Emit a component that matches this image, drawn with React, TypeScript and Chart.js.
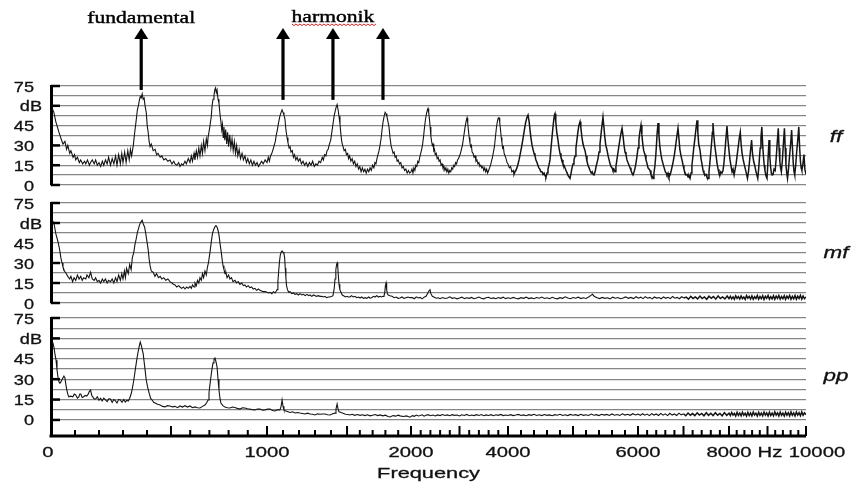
import React, { useEffect, useRef } from 'react';
import { Chart, registerables, LinearScale } from 'chart.js';

Chart.register(...registerables);

// ---- frequency axis calibration (as printed: labelled ticks are not evenly spaced) ----
const axisHz = [0, 500, 1000, 1500, 2000, 4000, 6000, 8000, 10000];
const axisFrac = [0, 0.1589, 0.2861, 0.3921, 0.4768, 0.6053, 0.7775, 0.898, 1];

// ---- tick labels ----
const xLabelValues = [0, 1000, 2000, 4000, 6000, 8000, 10000];
const xLabelTexts = ['0', '1000', '2000', '4000', '6000', '8000', '10000'];
const xUnit = 'Hz';
const xTitle = 'Frequency';
const gridDb = [0, 7.5, 15, 22.5, 30, 37.5, 45, 52.5, 60, 67.5, 75];
const yLabelValues = [75, 60, 45, 30, 15, 0];
const yLabelTexts = ['75', 'dB', '45', '30', '15', '0'];
const panelNames = ['ff', 'mf', 'pp'];

// ---- annotations ----
const arrowHz = [376, 1100, 1412, 1781];
const arrowBottomDb = [72, 64.5, 64.5, 64.5];
const annoFundamental = 'fundamental';
const annoHarmonic = 'harmonik';

// ---- spectra: [Hz, dB] ----
const ffSpectrum: [number, number][] = [
  [5,58],[12,55],[20,48],[33,40],[42,35],[50,31],[58,33],[65,27],[70,30],[78,24],[83,26],[92,21],[98,23],[103,19],[110,21],[118,17],[124,19],[132,16],[140,18],[145,16],[152,19],[160,15],[165,17],[172,19],[180,16],[186,19],[193,15],[200,17],[207,14],[214,18],[220,15],[227,19],[234,16],[240,21],[248,15],[255,20],[262,16],[269,22],[275,15],[282,23],[289,16],[295,24],[300,17],[307,25],[313,17],[320,26],[326,19],[331,27],[336,22],[343,30],[349,40],[355,49],[360,57],[364,60],[368,64],[372,67],[376,66],[380,69],[384,65],[388,66],[392,60],[397,55],[401,45],[405,40],[409,33],[413,29],[418,31],[426,26],[434,27],[440,23],[446,24],[455,21],[462,22],[470,19],[478,20],[487,18],[496,19],
  [505,16],[515,18],[521,16],[530,15],[540,17],[547,14],[555,16],[563,15],[573,18],[580,16],[590,20],[599,17],[606,22],[612,18],[620,24],[625,19],[632,26],[638,21],[645,28],[651,22],[658,30],[664,24],[670,33],[677,26],[684,35],[690,30],[693,36],[700,42],[705,47],[710,52],[714,60],[719,65],[724,68],[728,72],[732,73.5],[736,70],[740,72],[745,65],[750,62],[755,54],[760,48],[764,42],[768,46],[772,36],[776,44],[780,34],[785,42],[790,31],[795,40],[800,29],[806,38],[812,28],[818,35],[824,26],[830,33],[836,24],[842,30],[848,22],[855,27],[862,20],[870,24],[877,19],[885,22],[893,17],[900,20],[908,16],[916,19],[924,15],[932,18],[940,15],[948,17],[956,14],[964,16],[972,18],[980,16],[990,19],
  [1000,17],[1008,21],[1015,18],[1022,22],[1030,24],[1038,27],[1045,30],[1052,33],[1058,38],[1065,42],[1072,47],[1080,52],[1088,55],[1094,57],[1100,55],[1106,53],[1112,50],[1118,42],[1125,36],[1131,32],[1138,28],[1144,29],[1150,25],[1158,26],[1165,21],[1172,23],[1180,19],[1188,21],[1196,18],[1206,20],[1215,16],[1225,18],[1235,15],[1245,17],[1255,14],[1265,17],[1275,15],[1285,18],[1295,14],[1305,16],[1315,15],[1325,18],[1335,17],[1345,21],[1352,19],[1360,23],[1368,22],[1375,26],[1382,27],[1390,31],[1398,34],[1405,40],[1412,46],[1419,52],[1426,56],[1432,59],[1438,61],[1444,57],[1450,52],[1456,46],[1462,38],[1468,32],[1475,29],[1482,26],[1490,27],[1496,23],
  [1505,24],[1512,20],[1520,22],[1530,18],[1540,20],[1550,16],[1560,18],[1570,14],[1580,16],[1590,12],[1600,14],[1610,10],[1620,13],[1630,10],[1640,12],[1650,9],[1660,12],[1670,10],[1680,13],[1690,11],[1700,15],[1710,13],[1718,17],[1726,16],[1734,20],[1742,23],[1750,26],[1758,30],[1766,35],[1774,42],[1782,48],[1790,52],[1798,55],[1805,54],[1812,52],[1820,48],[1828,44],[1836,36],[1844,30],[1852,27],[1860,24],[1868,25],[1876,21],[1884,22],[1892,18],[1900,19],[1910,16],[1920,17],[1930,13],[1940,14],[1950,11],[1960,12],[1970,9],[1980,11],[1990,9],
  [2000,10],[2020,12],[2040,9],[2060,13],[2080,11],[2100,15],[2120,14],[2140,18],[2160,17],[2180,21],[2200,24],[2220,27],[2240,31],[2260,37],[2280,44],[2300,50],[2320,54],[2340,57],[2351,58],[2365,55],[2380,50],[2395,44],[2410,37],[2425,33],[2440,30],[2455,31],[2470,26],[2485,27],[2500,23],[2520,24],[2540,20],[2560,21],[2580,18],[2600,19],[2620,15],[2640,16],[2660,13],[2680,14],[2700,11],[2720,13],[2740,10],[2760,12],[2780,9],[2800,11],[2820,10],[2840,13],[2860,12],[2880,15],[2900,14],[2920,17],[2940,16],[2960,19],[2980,20],[3000,22],[3020,24],[3040,27],[3060,30],[3080,35],[3100,40],[3120,45],[3140,49],[3155,51],[3170,47],[3185,41],[3200,36],[3215,32],[3230,29],[3245,30],[3260,25],[3280,24],[3300,21],[3320,22],[3340,18],[3360,19],[3380,16],[3400,17],[3420,14],[3440,15],[3460,13],[3480,14],[3500,11],[3520,13],[3540,10],[3560,12],[3580,9],[3600,11],[3620,13],[3640,15],[3660,18],[3680,21],[3700,25],[3720,29],[3740,36],[3760,43],[3780,48],[3800,51],[3815,51],[3830,47],[3845,42],[3860,36],[3875,32],[3890,28],[3905,29],[3920,24],[3940,22],[3960,20],[3980,17],
  [4000,16],[4020,13],[4040,14],[4060,10],[4080,11],[4092,7.6],[4110,10],[4130,12],[4150,15],[4170,19],[4190,24],[4210,29],[4230,35],[4250,41],[4270,47],[4290,51],[4308,53],[4325,48],[4340,41],[4355,35],[4370,30],[4385,27],[4400,24],[4415,22],[4430,19],[4446,17],[4460,15],[4475,13],[4490,12],[4505,10],[4523,10],[4540,8],[4555,9],[4570,7],[4584,6],[4600,9],[4615,12],[4630,15],[4646,19],[4660,27],[4675,35],[4690,43],[4705,50],[4715,53],[4723,54],[4735,48],[4750,40],[4769,34],[4785,28],[4800,24],[4815,21],[4831,19],[4845,16],[4860,15],[4876,13],[4892,11],[4910,9],[4925,7],[4940,6],[4954,5],[4970,9],[4985,13],[5000,16],[5015,19],[5031,22],[5045,28],[5060,34],[5075,40],[5090,45],[5108,48],[5120,44],[5135,37],[5150,32],[5165,29],[5185,26],[5200,22],[5215,18],[5230,15],[5247,13],[5262,11],[5280,9],[5295,10],[5310,8],[5323,7.6],[5340,10],[5355,14],[5370,17],[5385,20],[5400,25],[5415,31],[5430,38],[5445,45],[5461,51.5],[5475,44],[5490,36],[5505,30],[5523,26.5],[5540,22],[5555,19],[5570,16],[5585,14],[5600,13],[5615,11],[5630,12],[5646,10],[5660,14],[5675,19],[5690,24],[5705,29],[5720,34],[5737,39],[5754,43],[5770,37],[5785,30],[5800,25],[5815,23],[5830,19],[5845,17],[5862,15],[5877,13],[5892,11],[5908,9],[5923,7.6],[5940,10],[5955,13],[5970,17],[5985,22],
  [6000,28],[6020,34],[6040,40],[6066,45.5],[6085,38],[6105,31],[6125,26],[6154,23],[6175,19],[6200,16],[6220,13],[6245,12],[6264,11],[6285,8],[6305,7],[6330,5],[6350,9],[6370,14],[6390,22],[6405,30],[6420,39],[6440,47],[6460,38],[6480,29],[6505,23],[6527,19],[6550,16],[6575,13],[6600,10],[6620,9],[6637,7.6],[6660,9],[6680,6],[6703,7.6],[6725,10],[6750,14],[6775,18],[6800,23],[6825,29],[6850,36],[6879,43],[6900,35],[6920,27],[6945,22],[6967,19],[6990,15],[7010,12],[7035,9],[7055,7.6],[7080,8],[7100,6],[7120,7],[7143,5],[7165,9],[7185,15],[7205,21],[7225,28],[7250,35],[7275,43],[7297,49],[7315,40],[7335,31],[7363,26.5],[7385,20],[7410,15],[7430,11],[7450,9],[7473,7.6],[7495,8],[7515,6],[7539,5],[7560,10],[7580,17],[7600,25],[7620,33],[7635,40],[7648,47],[7665,38],[7690,29],[7714,23],[7735,17],[7760,12],[7780,9],[7802,7.6],[7820,10],[7845,9],[7868,11],[7890,17],[7910,25],[7930,34],[7956,44.7],[7975,35],
  [8000,26],[8027,19],[8055,14],[8080,10],[8105,12],[8133,7.6],[8160,12],[8185,16],[8210,22],[8240,29],[8265,35],[8293,40],[8315,31],[8340,24],[8370,19],[8400,15],[8425,12],[8450,9],[8480,5],[8505,10],[8530,17],[8555,25],[8587,34],[8610,24],[8640,18],[8667,15],[8695,11],[8720,8],[8747,5],[8770,12],[8790,20],[8810,28],[8830,36],[8853,44],[8875,30],[8900,20],[8915,15],[8933,11],[8960,7],[8987,5],[9005,14],[9022,24],[9040,34],[9060,22],[9080,14],[9100,9],[9120,7.6],[9145,8],[9170,12],[9200,11],[9225,20],[9250,31],[9280,43],[9300,28],[9320,18],[9340,13],[9360,10],[9385,18],[9410,30],[9440,43],[9460,28],[9480,15],[9500,9],[9520,5],[9545,12],[9570,21],[9600,31],[9627,41.7],[9650,27],[9670,16],[9690,10],[9707,7.6],[9730,14],[9755,24],[9785,34],[9813,44],[9835,28],[9855,18],[9875,13],[9893,11],[9920,16],[9947,23],[9970,12],[10000,8],
];

const mfSpectrum: [number, number][] = [
  [5,62],[12,60],[20,52],[29,46],[36,40],[41,34],[46,30],[50,27],[56,24],[62,22.5],[70,20],[78,18],[83,20],[90,16],[96,19],[103,17],[110,21],[117,18],[124,20],[130,17],[136,19],[145,18],[150,21],[158,19],[165,23],[172,18],[180,17],[186,19],[193,16],[200,17],[207,15],[214,18],[220,16],[227,18],[234,15],[240,17],[248,16],[255,18],[262,15],[269,19],[275,16],[282,21],[289,17],[295,22],[300,18],[306,24],[310,19],[315,26],[322,22],[328,29],[334,25],[339,34],[345,38],[350,44],[355,48],[360,53],[365,56],[368,58],[372,60],[376,61],[380,62],[385,59],[390,57],[395,52],[400,46],[405,40],[409,33],[413,28],[418,24],[426,23],[433,20],[440,22],[448,19],[455,20],[462,18],[470,19],[478,17],[487,18],[496,16],
  [505,15],[513,14],[521,13.5],[530,12],[540,13],[547,12],[555,11],[565,12],[573,10.5],[582,12],[590,11],[599,12.5],[606,11],[612,13.5],[620,12],[625,15],[632,13],[638,17],[645,15],[651,19],[658,17],[664,22],[670,19],[677,24],[684,21],[690,27],[695,30],[700,35],[705,40],[710,46],[716,52],[722,55],[728,57],[734,58],[740,57],[746,54],[751,50],[756,44],[762,38],[767,32],[771,28],[776,25],[782,22],[786,23],[792,19],[800,21],[807,18],[815,19],[823,16],[833,17],[842,15],[850,16],[859,14],[868,15],[877,13],[885,13.5],[893,12],[902,13],[911,11.5],[920,12],[928,10.5],[937,11],[946,9.5],[955,10.5],[964,9.5],[972,9],[980,8.5],[990,8.5],
  [1000,8],[1010,7.5],[1019,8],[1030,7],[1040,8.5],[1050,7.5],[1058,9],[1063,10],[1068,16],[1073,24],[1078,31],[1083,36],[1088,38],[1094,39],[1100,38],[1106,37],[1110,34],[1114,26],[1118,19],[1122,13],[1128,10],[1135,8],[1144,8.5],[1155,7],[1165,7.5],[1175,6.5],[1186,7],[1196,6],[1206,7],[1218,6],[1228,6.5],[1238,5.5],[1250,6.5],[1260,5.5],[1269,6],[1280,5],[1290,6],[1300,5.5],[1310,5],[1320,5.5],[1331,5],[1342,5],[1352,4.5],[1362,5],[1372,4],[1383,4.5],[1394,4.5],[1405,5],[1412,5.5],[1420,11],[1425,18],[1430,25],[1435,29],[1438,30],[1442,27],[1446,20],[1450,14],[1455,10],[1462,8],[1470,6],[1481,5.2],[1490,4.5],
  [1500,5],[1510,4.5],[1523,4.5],[1535,5.5],[1548,4.5],[1563,5],[1575,4],[1590,4.5],[1602,3.7],[1615,4.5],[1628,3.5],[1641,4],[1655,3.5],[1668,4.5],[1680,3.7],[1693,4],[1706,5],[1719,4.5],[1732,5.5],[1745,4.5],[1758,5],[1770,4.5],[1782,5],[1789,5.2],[1795,8],[1800,13],[1805,15],[1810,10],[1815,7],[1822,6],[1835,5.5],[1852,5],[1868,4],[1884,4.5],[1900,3.5],[1914,3.7],[1930,4.5],[1945,3.5],[1960,4],[1976,4.5],[1992,4],
  [2030,4],[2070,3.2],[2110,4.6],[2150,3.8],[2190,4.2],[2230,3.1],[2270,4.4],[2310,5],[2340,7],[2370,9],[2392,10],[2410,7],[2440,5],[2480,4.3],[2520,3.6],[2560,3.9],[2600,3.2],[2650,4.1],[2700,3.4],[2750,3.8],[2800,4.6],[2850,3.5],[2900,3.9],[2950,3.1],[3000,3.7],[3050,4.4],[3100,3.3],[3150,3.9],[3200,3.5],[3250,4.2],[3300,3.2],[3350,3.8],[3400,4.5],[3450,3.6],[3500,3.1],[3550,3.9],[3600,4.3],[3650,3.4],[3700,3.8],[3750,3.2],[3800,4.1],[3850,3.5],[3900,4.4],[3950,3.3],[4000,3.9],
  [4040,3.4],[4080,4.2],[4120,3.6],[4160,3.1],[4200,4],[4240,3.5],[4280,4.4],[4320,3.3],[4360,3.8],[4400,3.2],[4440,4.1],[4480,3.6],[4520,4.5],[4560,3.4],[4600,3.9],[4640,3.2],[4680,4.3],[4720,3.6],[4760,3.1],[4800,4],[4840,3.5],[4880,4.6],[4920,3.7],[4960,3.2],[5000,4.1],[5040,3.6],[5080,4.4],[5120,3.3],[5160,3.9],[5200,3.4],[5240,4.5],[5270,5.5],[5300,6.5],[5330,4.8],[5370,3.9],[5410,3.3],[5450,4.2],[5490,3.5],[5530,3.9],[5570,3.1],[5610,4.4],[5650,3.6],[5690,4.1],[5730,3.2],[5770,3.8],[5810,4.6],[5850,3.5],[5890,4.2],[5930,3.3],[5970,4.7],
  [6010,3.6],[6060,4.4],[6110,3.3],[6160,4.8],[6210,3.6],[6260,4.2],[6310,3.1],[6360,4.5],[6410,3.7],[6460,4.1],[6510,3.2],[6560,4.6],[6610,3.5],[6660,4.3],[6710,3.3],[6760,4.9],[6810,3.6],[6860,4.2],[6910,3.2],[6960,4.7],[7010,3.8],[7060,4.4],[7110,2.9],[7160,5],[7210,3.4],[7260,4.6],[7310,3.1],[7360,5.2],[7410,3.3],[7460,4.5],[7510,2.8],[7560,5.1],[7610,3.6],[7660,4.8],[7710,2.9],[7760,5.3],[7810,3.4],[7860,4.6],[7910,3],[7960,5.2],
  [8000,3.3],[8035,5],[8070,3.1],[8105,4.6],[8140,2.8],[8175,5.4],[8210,3.5],[8245,4.8],[8280,2.9],[8315,5.2],[8350,3.3],[8385,4.5],[8420,2.7],[8455,5.5],[8490,3.6],[8525,4.9],[8560,3],[8595,5.3],[8630,2.8],[8665,4.7],[8700,3.4],[8735,5.6],[8770,2.9],[8805,4.8],[8840,3.2],[8875,5.4],[8910,2.7],[8945,5],[8980,3.5],[9015,5.6],[9050,2.9],[9085,4.7],[9120,3.1],[9155,5.5],[9190,2.8],[9225,5.1],[9260,3.4],[9295,5.7],[9330,2.9],[9365,4.8],[9400,3.2],[9435,5.5],[9470,2.7],[9505,5.2],[9540,3.5],[9575,5.7],[9610,2.8],[9645,4.9],[9680,3.1],[9715,5.6],[9750,2.8],[9785,5.1],[9820,3.4],[9855,5.8],[9890,2.9],[9925,5.2],[9960,3.2],[10000,4.6],
];

const ppSpectrum: [number, number][] = [
  [5,57],[8,56.6],[12,53.7],[16,49],[21,44],[25,37],[29,31.6],[33,28],[37,27],[41,28],[45,29.4],[50,31],[54,32.3],[58,31],[62,26],[66,22],[70,19],[74,17],[82,17.5],[91,17],[97,19],[103,18.4],[110,16],[116,17],[120,19],[124,19],[130,16.5],[136,17],[142,18],[149,17.6],[155,19],[160,21],[165,22],[170,18],[174,17],[180,15.5],[186,15.4],[193,17],[200,14.5],[207,16],[213,14],[220,16],[227,14.7],[234,13.5],[241,15.5],[248,15.4],[255,13],[262,15],[269,14],[275,12.5],[282,15],[289,14.7],[296,13],[303,15],[310,13.2],[316,14.5],[322,14],[328,16],[335,19.8],[341,25],[347,31.6],[353,39],[359,46],[365,52],[370,56],[372,57.3],[376,55],[380,52],[384,49],[390,40],[397,29.4],[403,24],[409,19.8],[415,16],[421,14.7],[428,13],[434,12.5],[444,11.5],[455,11],[465,10],[475,9.6],[485,10.5],[496,10.3],
  [508,9.6],[521,10],[534,9],[547,10.3],[560,9.5],[573,10.5],[586,9.5],[599,10.3],[612,9],[625,9.6],[638,9],[651,8.8],[664,10],[677,11],[685,12.5],[693,14.7],[698,20],[703,26],[708,31.6],[713,37],[719,42],[724,44.5],[729,45.6],[734,43],[740,39],[745,30],[750,22],[755,16],[760,12.5],[770,10.5],[781,9.6],[794,9],[807,8.8],[820,9.5],[833,9.2],[846,8.5],[859,8],[872,9],[885,8.8],[898,8.2],[911,8],[924,7.5],[937,7.4],[950,8],[964,8],[977,7.2],[990,7.4],
  [1005,8],[1019,8],[1035,7],[1050,6.6],[1065,7.5],[1081,7.4],[1088,10],[1094,14.7],[1100,10],[1106,7.4],[1118,6.5],[1131,6],[1145,5.5],[1160,6],[1175,5.1],[1190,5.5],[1206,5.1],[1222,4.8],[1238,4.4],[1253,5],[1269,4.4],[1285,4.2],[1300,3.7],[1315,4.5],[1331,4.2],[1347,4.4],[1362,4.4],[1378,3.8],[1394,3.7],[1410,4.5],[1425,5],[1431,8],[1438,11.8],[1444,8],[1450,6],[1462,5.5],[1475,5],[1490,4.2],
  [1505,4],[1523,3.7],[1540,4.2],[1560,3.4],[1580,4],[1602,3.4],[1620,3.8],[1640,3.2],[1660,3.8],[1680,3],[1700,3.5],[1720,4],[1740,3.2],[1758,3.7],[1780,3],[1800,3.5],[1820,2.6],[1836,2.2],[1860,3.2],[1880,2.8],[1900,3.5],[1914,3],[1940,2.5],[1965,3],[1992,2],
  [2030,3.2],[2070,2.7],[2110,3.6],[2150,2.9],[2190,3.3],[2230,3.8],[2270,2.8],[2310,3.4],[2351,3.9],[2400,3.1],[2450,3.6],[2500,2.9],[2550,3.7],[2600,3.2],[2650,4],[2700,3.3],[2750,3.7],[2800,3.1],[2850,3.9],[2900,3.4],[2950,3.6],[3000,2.9],[3050,3.8],[3100,3.3],[3150,4.1],[3200,3.1],[3250,3.6],[3300,3.2],[3350,3.9],[3400,3.3],[3450,4],[3500,3.1],[3550,3.7],[3600,3.3],[3650,3.9],[3700,3.1],[3750,3.8],[3800,3.4],[3850,4.1],[3900,3.2],[3950,3.6],[4000,3.3],
  [4040,3.9],[4080,3.2],[4120,3.6],[4160,4.1],[4200,3.3],[4240,3.7],[4280,3.1],[4320,3.9],[4360,3.4],[4400,4.2],[4440,3.3],[4480,3.8],[4520,3.2],[4560,4],[4600,3.4],[4640,3.7],[4680,3.1],[4720,3.9],[4760,3.5],[4800,4.2],[4840,3.3],[4880,3.8],[4920,3.2],[4960,4.1],[5000,3.5],[5040,3.9],[5080,3.2],[5120,4.2],[5160,3.4],[5200,3.8],[5240,3.3],[5280,4.3],[5320,3.5],[5360,3.9],[5400,3.2],[5440,4.2],[5480,3.6],[5520,4.1],[5560,3.3],[5600,4.4],[5640,3.5],[5680,4],[5720,3.3],[5760,4.5],[5800,3.6],[5840,4.2],[5880,3.4],[5920,4.6],[5960,3.7],[6000,4.3],
  [6050,3.4],[6100,4.6],[6150,3.5],[6200,4.3],[6250,3.2],[6300,4.7],[6350,3.6],[6400,4.4],[6450,3.3],[6500,4.8],[6550,3.5],[6600,4.5],[6650,3.2],[6700,4.9],[6750,3.6],[6800,4.4],[6850,3.3],[6900,5],[6950,3.7],[7000,4.6],[7050,3.1],[7100,5.1],[7150,3.5],[7200,4.7],[7250,3.2],[7300,5.2],[7350,3.6],[7400,4.8],[7450,3.1],[7500,5.3],[7550,3.4],[7600,4.9],[7650,3.2],[7700,5.3],[7750,3.5],[7800,4.8],[7850,3.1],[7900,5.4],[7950,3.4],
  [8000,5],[8035,3.2],[8070,5.5],[8105,3.6],[8140,4.9],[8175,2.9],[8210,5.6],[8245,3.4],[8280,5.1],[8315,3],[8350,5.7],[8385,3.5],[8420,4.9],[8455,2.9],[8490,5.6],[8525,3.3],[8560,5.2],[8595,3],[8630,5.8],[8665,3.6],[8700,5],[8735,2.9],[8770,5.7],[8805,3.4],[8840,5.1],[8875,3],[8910,5.8],[8945,3.5],[8980,5.2],[9015,2.9],[9050,5.7],[9085,3.3],[9120,5.1],[9155,3],[9190,5.9],[9225,3.6],[9260,5.2],[9295,3],[9330,5.8],[9365,3.4],[9400,5.1],[9435,2.9],[9470,5.7],[9505,3.5],[9540,5.3],[9575,3],[9610,5.9],[9645,3.4],[9680,5.2],[9715,2.9],[9750,5.8],[9785,3.6],[9820,5.3],[9855,3.1],[9890,5.9],[9925,3.4],[9960,5.2],[10000,3.8],
];

// ---- warped frequency scale ----
function hzToFrac(v: number): number {
  const n = axisHz.length;
  for (let i = 1; i < n; i++) {
    if (v <= axisHz[i] || i === n - 1) {
      const t = (v - axisHz[i - 1]) / (axisHz[i] - axisHz[i - 1]);
      return axisFrac[i - 1] + t * (axisFrac[i] - axisFrac[i - 1]);
    }
  }
  return 1;
}
function fracToHz(f: number): number {
  const n = axisFrac.length;
  for (let i = 1; i < n; i++) {
    if (f <= axisFrac[i] || i === n - 1) {
      const t = (f - axisFrac[i - 1]) / (axisFrac[i] - axisFrac[i - 1]);
      return axisHz[i - 1] + t * (axisHz[i] - axisHz[i - 1]);
    }
  }
  return axisHz[n - 1];
}

class WarpScale extends LinearScale {
  static id = 'warp';
  static defaults = LinearScale.defaults;
  getPixelForValue(value: number) {
    return this.getPixelForDecimal(hzToFrac(value));
  }
  getValueForPixel(pixel: number) {
    return fracToHz(this.getDecimalForPixel(pixel));
  }
}
Chart.register(WarpScale as any);

const SANS = '"Liberation Sans", Arial, Helvetica, sans-serif';
const SERIF = '"Liberation Serif", "Times New Roman", serif';

function stretchText(ctx: CanvasRenderingContext2D, text: string, x: number, y: number, font: string, sx: number, align: CanvasTextAlign, color = '#111', stroke = 0.3) {
  ctx.save();
  ctx.font = font;
  ctx.fillStyle = color;
  ctx.strokeStyle = color;
  ctx.lineWidth = stroke;
  ctx.textAlign = align;
  ctx.textBaseline = 'alphabetic';
  ctx.translate(x, y);
  ctx.scale(sx, 1);
  ctx.fillText(text, 0, 0);
  if (stroke > 0) ctx.strokeText(text, 0, 0);
  ctx.restore();
}

type PanelCfg = {
  name: string;
  data: [number, number][];
  canvasTop: number;
  canvasHeight: number;
  padTop: number;
  padBottom: number;
  yMin: number;
  nameBaseline: number;
  annotate: boolean;
  xAxis: boolean;
  heavyFrom: number;
};

const panels: PanelCfg[] = [
  { name: panelNames[0], data: ffSpectrum, canvasTop: 0, canvasHeight: 195, padTop: 86, padBottom: 10, yMin: 0, nameBaseline: 56, annotate: true, xAxis: false, heavyFrom: 4100 },
  { name: panelNames[1], data: mfSpectrum, canvasTop: 195, canvasHeight: 115, padTop: 8, padBottom: 7, yMin: 0, nameBaseline: 55, annotate: false, xAxis: false, heavyFrom: 7000 },
  { name: panelNames[2], data: ppSpectrum, canvasTop: 310, canvasHeight: 177, padTop: 8, padBottom: 51, yMin: -11.8, nameBaseline: 63, annotate: false, xAxis: true, heavyFrom: 7000 },
];

function makeDecor(cfg: PanelCfg) {
  return {
    id: 'decor-' + cfg.name,
    afterDraw(chart: any) {
      const ctx: CanvasRenderingContext2D = chart.ctx;
      const xs = chart.scales.x;
      const ys = chart.scales.y;
      const area = chart.chartArea;

      yLabelValues.forEach((v, i) => {
        const y = ys.getPixelForValue(v);
        const t = yLabelTexts[i];
        stretchText(ctx, t, t === 'dB' ? 42 : 34, y + 5.5, `15.5px ${SANS}`, 1.17, 'right');
      });
      ctx.save();
      ctx.strokeStyle = '#000';
      ctx.lineWidth = 2.5;
      [75, 60, 30, 15, 0].forEach((v) => {
        const y = ys.getPixelForValue(v);
        ctx.beginPath();
        ctx.moveTo(area.left, y);
        ctx.lineTo(area.left + 9, y);
        ctx.stroke();
      });
      ctx.restore();

      stretchText(ctx, cfg.name, 836, area.top + cfg.nameBaseline, `italic 16px ${SANS}`, 1.4, 'center');

      if (cfg.annotate) {
        ctx.save();
        ctx.fillStyle = '#000';
        ctx.strokeStyle = '#000';
        arrowHz.forEach((hz, i) => {
          const x = xs.getPixelForValue(hz);
          const yb = ys.getPixelForValue(arrowBottomDb[i]);
          const tip = area.top - 58;
          ctx.lineWidth = 3.2;
          ctx.beginPath();
          ctx.moveTo(x, yb);
          ctx.lineTo(x, tip + 9);
          ctx.stroke();
          ctx.beginPath();
          ctx.moveTo(x, tip);
          ctx.lineTo(x - 7, tip + 11);
          ctx.lineTo(x + 7, tip + 11);
          ctx.closePath();
          ctx.fill();
        });
        ctx.restore();
        const fx = xs.getPixelForValue(arrowHz[0]);
        stretchText(ctx, annoFundamental, fx, area.top - 63.5, `17px ${SERIF}`, 1.27, 'center', '#000', 0.4);
        const hx = xs.getPixelForValue(arrowHz[2]);
        stretchText(ctx, annoHarmonic, hx, area.top - 64.5, `17px ${SERIF}`, 1.27, 'center', '#000', 0.4);
        ctx.save();
        ctx.strokeStyle = '#d42020';
        ctx.lineWidth = 1;
        ctx.beginPath();
        const y0 = area.top - 62;
        let k = 0;
        for (let x = hx - 41; x <= hx + 43; x += 2) {
          const yy = y0 + (k % 2 === 0 ? 0 : 1.6);
          if (k === 0) ctx.moveTo(x, yy); else ctx.lineTo(x, yy);
          k++;
        }
        ctx.stroke();
        ctx.restore();
      }

      if (cfg.xAxis) {
        const yAxis = area.bottom;
        ctx.save();
        ctx.strokeStyle = '#000';
        ctx.lineWidth = 3;
        ctx.beginPath();
        ctx.moveTo(area.left - 1.5, yAxis);
        ctx.lineTo(area.right, yAxis);
        ctx.stroke();
        ctx.lineWidth = 2;
        const ticks: number[] = [];
        for (let f = 100; f <= 2000; f += 100) ticks.push(f);
        for (let f = 2200; f <= 10000; f += 200) ticks.push(f);
        ticks.forEach((f) => {
          const major = f <= 2000 ? f % 500 === 0 : f % 1000 === 0;
          const x = xs.getPixelForValue(f);
          ctx.beginPath();
          ctx.moveTo(x, yAxis);
          ctx.lineTo(x, yAxis - (major ? 10 : 6));
          ctx.stroke();
        });
        ctx.restore();
        xLabelValues.forEach((v, i) => {
          let x = xs.getPixelForValue(v);
          if (v === 0) x -= 3;
          if (v === xLabelValues[xLabelValues.length - 1]) x += 11;
          stretchText(ctx, xLabelTexts[i], x, yAxis + 21, `15px ${SANS}`, 1.35, 'center');
        });
        const hzX = xs.getPixelForValue(8000) + 41;
        stretchText(ctx, xUnit, hzX, yAxis + 21, `15px ${SANS}`, 1.35, 'center');
        stretchText(ctx, xTitle, (area.left + area.right) / 2, yAxis + 42, `15px ${SANS}`, 1.45, 'center');
      }
    },
  };
}

export default function App() {
  const r0 = useRef<HTMLCanvasElement>(null);
  const r1 = useRef<HTMLCanvasElement>(null);
  const r2 = useRef<HTMLCanvasElement>(null);
  const refs = [r0, r1, r2];

  useEffect(() => {
    const charts: Chart[] = [];
    panels.forEach((cfg, idx) => {
      const canvas = refs[idx].current;
      if (!canvas) return;
      const heavy = cfg.heavyFrom;
      const chart = new Chart(canvas, {
        type: 'line',
        data: {
          datasets: [
            {
              data: cfg.data.map(([x, y]) => ({ x, y })),
              borderColor: '#141414',
              borderWidth: 1.1,
              pointRadius: 0,
              tension: 0,
              fill: false,
              segment: {
                borderWidth: (c: any) => (c.p0.parsed.x >= heavy ? 1.5 : 1.1),
              },
            } as any,
          ],
        },
        options: {
          animation: false,
          responsive: false,
          events: [],
          layout: { padding: { top: cfg.padTop, bottom: cfg.padBottom, left: 0, right: 46 } },
          plugins: {
            legend: { display: false },
            tooltip: { enabled: false },
            title: { display: false },
          },
          scales: {
            x: {
              type: 'warp' as any,
              min: 0,
              max: 10000,
              display: false,
              ticks: { callback: (v: any) => String(v) },
            },
            y: {
              type: 'linear',
              min: cfg.yMin,
              max: 75,
              afterFit: (s: any) => {
                s.width = 51;
              },
              afterBuildTicks: (s: any) => {
                s.ticks = gridDb.map((v) => ({ value: v }));
              },
              ticks: { display: false },
              grid: { color: '#868686', lineWidth: 1.3, drawTicks: false },
              border: { display: true, color: '#000', width: 3 },
            },
          },
        } as any,
        plugins: [makeDecor(cfg)],
      });
      charts.push(chart);
    });
    return () => charts.forEach((c) => c.destroy());
  }, []);

  return (
    <div style={{ position: 'fixed', left: 0, top: 0, width: 852, height: 487, background: '#fff', overflow: 'hidden' }}>
      {panels.map((cfg, idx) => (
        <canvas
          key={cfg.name}
          ref={refs[idx]}
          width={852}
          height={cfg.canvasHeight}
          style={{ position: 'absolute', left: 0, top: cfg.canvasTop, width: 852, height: cfg.canvasHeight }}
        />
      ))}
    </div>
  );
}
